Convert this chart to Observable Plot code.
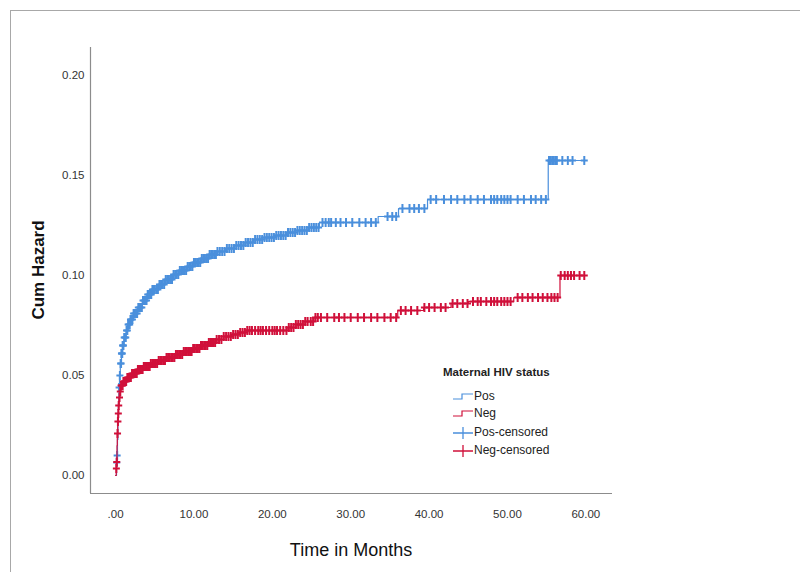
<!DOCTYPE html>
<html><head><meta charset="utf-8">
<script src="https://cdn.jsdelivr.net/npm/d3@7"></script>
<script src="https://cdn.jsdelivr.net/npm/@observablehq/plot@0.6"></script>
<style>
body{margin:0;background:#fff;overflow:hidden;font-family:Arial,"Liberation Sans",sans-serif;}
#wrap{position:relative;width:800px;height:572px;overflow:hidden;}
#frame{position:absolute;left:10px;top:10px;width:820px;height:600px;border:1px solid #a8a8a8;}
#chart{position:absolute;left:0;top:0;}
.lg{position:absolute;font-size:12px;color:#222;white-space:nowrap;line-height:14px;}
.lg svg{vertical-align:middle;}
</style></head>
<body><div id="wrap"><div id="frame"></div><div id="chart"></div><div id="legend"></div></div>
<script>
// ---- data ----
const seriesNames = ["Pos", "Neg"];
const legendTitle = "Maternal HIV status";
const legendLabels = ["Pos", "Neg", "Pos-censored", "Neg-censored"];
const xTicks = [0, 10, 20, 30, 40, 50, 60];
const yTicks = [0, 0.05, 0.10, 0.15, 0.20];
const xTitle = "Time in Months";
const yTitle = "Cum Hazard";

const posStepT = [0, 0.12, 0.19, 0.24, 0.3, 0.36, 0.42, 0.5, 0.6, 0.75, 0.9, 1.1, 1.35, 1.6, 1.9, 2.3, 2.8, 3.4, 4.0, 4.7, 5.5, 6.4, 7.3, 8.2, 9.1, 10.0, 11.0, 12.0, 13.0, 14.0, 15.2, 16.4, 17.6, 19.0, 20.4, 21.8, 23.2, 24.6, 26.0, 33.5, 36.1, 39.8, 55.2];
const posStepH = [0, 0.0065, 0.010, 0.018, 0.027, 0.036, 0.044, 0.050, 0.056, 0.061, 0.065, 0.069, 0.0725, 0.0755, 0.078, 0.081, 0.084, 0.0875, 0.0905, 0.093, 0.0955, 0.098, 0.1005, 0.1025, 0.1045, 0.1065, 0.1085, 0.1105, 0.112, 0.1135, 0.115, 0.1165, 0.118, 0.119, 0.120, 0.1215, 0.1225, 0.124, 0.1265, 0.1295, 0.1335, 0.138, 0.1575];
const posCensT = [0.15, 0.2, 0.45, 0.55, 0.65, 0.7, 0.75, 0.8, 0.85, 0.9, 0.95, 1.0, 1.1, 1.2, 1.3, 1.4, 1.5, 1.6, 1.7, 1.8, 1.9, 2.0, 2.15, 2.3, 2.45, 2.6, 2.75, 2.9, 3.05, 3.2, 3.35, 3.5, 3.65, 3.8, 3.95, 4.1, 4.25, 4.4, 4.55, 4.7, 4.85, 5.0, 5.2, 5.4, 5.6, 5.8, 6.0, 6.2, 6.4, 6.6, 6.8, 7.0, 7.2, 7.4, 7.6, 7.8, 8.0, 8.2, 8.4, 8.6, 8.8, 9.0, 9.2, 9.4, 9.6, 9.8, 10.0, 10.2, 10.4, 10.6, 10.8, 11.0, 11.2, 11.4, 11.6, 11.8, 12.0, 12.2, 12.4, 12.6, 12.8, 13.0, 13.3, 13.6, 13.9, 14.2, 14.5, 14.8, 15.1, 15.4, 15.7, 16.0, 16.3, 16.6, 16.9, 17.2, 17.5, 17.8, 18.1, 18.4, 18.7, 19.0, 19.3, 19.6, 19.9, 20.2, 20.5, 20.8, 21.1, 21.4, 21.7, 22.0, 22.3, 22.6, 22.9, 23.2, 23.5, 23.8, 24.1, 24.4, 24.7, 25.0, 25.3, 25.6, 25.9, 26.4, 26.8, 27.2, 27.5, 28.1, 28.7, 29.4, 30.2, 31.1, 31.9, 32.6, 33.2, 34.7, 35.3, 35.8, 36.6, 37.5, 38.1, 38.7, 39.4, 40.2, 40.9, 41.9, 42.8, 43.6, 44.5, 45.3, 46.2, 47.0, 47.9, 48.3, 48.7, 49.2, 49.6, 50.0, 50.4, 51.3, 52.1, 53.0, 53.6, 54.3, 54.9, 55.3, 55.5, 55.7, 55.9, 56.1, 56.3, 57.0, 57.7, 58.3, 59.8];

const negStepT = [0, 0.08, 0.12, 0.18, 0.22, 0.27, 0.32, 0.38, 0.45, 0.55, 0.7, 1.0, 1.4, 2.0, 2.8, 3.6, 4.5, 5.5, 6.5, 7.6, 8.7, 9.8, 10.8, 11.8, 12.8, 13.8, 14.8, 15.8, 16.8, 22.0, 23.0, 24.2, 25.3, 36.0, 39.3, 42.8, 45.0, 50.8, 56.7];
const negStepH = [0, 0.0035, 0.0067, 0.015, 0.021, 0.027, 0.031, 0.035, 0.039, 0.042, 0.045, 0.047, 0.049, 0.051, 0.053, 0.0545, 0.056, 0.0575, 0.059, 0.0605, 0.062, 0.0635, 0.065, 0.0665, 0.068, 0.0695, 0.0705, 0.0715, 0.0725, 0.074, 0.0755, 0.077, 0.079, 0.0825, 0.084, 0.086, 0.087, 0.089, 0.100];
const negCensT = [0.1, 0.15, 0.25, 0.3, 0.35, 0.4, 0.5, 0.6, 0.7, 0.8, 0.9, 1.0, 1.1, 1.2, 1.35, 1.5, 1.65, 1.8, 1.95, 2.1, 2.25, 2.4, 2.55, 2.7, 2.85, 3.0, 3.15, 3.3, 3.45, 3.6, 3.75, 3.9, 4.05, 4.2, 4.35, 4.5, 4.7, 4.9, 5.1, 5.3, 5.5, 5.7, 5.9, 6.1, 6.3, 6.5, 6.7, 6.9, 7.1, 7.3, 7.5, 7.7, 7.9, 8.1, 8.3, 8.5, 8.7, 8.9, 9.1, 9.3, 9.5, 9.7, 9.9, 10.1, 10.3, 10.5, 10.7, 10.9, 11.1, 11.3, 11.5, 11.7, 11.9, 12.1, 12.3, 12.5, 12.7, 12.9, 13.2, 13.5, 13.8, 14.1, 14.4, 14.7, 15.0, 15.3, 15.6, 15.9, 16.2, 16.5, 16.8, 17.1, 17.4, 17.8, 18.2, 18.5, 18.8, 19.2, 19.6, 20.0, 20.3, 20.6, 21.0, 21.4, 21.8, 22.1, 22.4, 22.7, 23.0, 23.3, 23.6, 23.9, 24.2, 24.5, 24.9, 25.2, 25.5, 25.8, 26.2, 27.0, 27.9, 28.5, 29.2, 30.0, 30.9, 31.7, 32.6, 33.4, 34.3, 35.1, 35.8, 36.4, 37.0, 37.7, 38.5, 39.4, 40.0, 40.7, 41.5, 42.1, 43.0, 43.6, 44.3, 44.9, 45.6, 46.2, 46.6, 47.3, 47.9, 48.3, 48.7, 49.2, 49.6, 50.0, 50.4, 51.3, 51.9, 52.6, 53.2, 53.9, 54.5, 55.1, 55.6, 56.0, 56.4, 56.8, 57.3, 57.7, 58.1, 58.5, 59.2, 59.8];

const colors = ["#4a8fdc", "#d0103a"];
const axisColor = "#8c8c8c";
const xDomain = [-3.2, 63.4];
const yDomain = [-0.009, 0.214];

// ---- helpers ----
function hAt(T, H, t) { let v = H[0]; for (let i = 0; i < T.length; i++) { if (T[i] <= t) v = H[i]; } return v; }
function lineData(T, H, C) { const r = T.map((t, i) => ({t, h: H[i]})); r.push({t: d3.max(C), h: H[H.length - 1]}); return r; }
function censData(T, H, C) { return C.map(t => ({t, h: hAt(T, H, t)})); }

const posLine = lineData(posStepT, posStepH, posCensT);
const negLine = lineData(negStepT, negStepH, negCensT);
const posCens = censData(posStepT, posStepH, posCensT);
const negCens = censData(negStepT, negStepH, negCensT);

// censor mark: a "+" slightly taller than wide
const crossSym = {draw(ctx) { ctx.moveTo(-3.5, 0); ctx.lineTo(3.5, 0); ctx.moveTo(0, -4.5); ctx.lineTo(0, 4.5); }};

const plot = Plot.plot({
  width: 800, height: 572,
  marginLeft: 90, marginRight: 188, marginTop: 47, marginBottom: 79,
  x: {domain: xDomain, ticks: xTicks, tickFormat: d => d === 0 ? ".00" : d.toFixed(2), tickSize: 0, tickPadding: 16, label: null},
  y: {domain: yDomain, ticks: yTicks, tickFormat: d => d.toFixed(2), tickSize: 0, tickPadding: 6, label: null},
  style: {fontFamily: "Arial, 'Liberation Sans', sans-serif", fontSize: "11.5px", color: "#333", background: "transparent"},
  marks: [
    Plot.ruleX([xDomain[0]], {stroke: axisColor, strokeWidth: 1.2}),
    Plot.ruleY([yDomain[0]], {stroke: axisColor, strokeWidth: 1.2}),
    Plot.line(posLine, {x: "t", y: "h", curve: "step-after", stroke: colors[0], strokeWidth: 1.2}),
    Plot.dot(posCens, {x: "t", y: "h", symbol: crossSym, fill: "none", stroke: colors[0], strokeWidth: 2}),
    Plot.line(negLine, {x: "t", y: "h", curve: "step-after", stroke: colors[1], strokeWidth: 1.2}),
    Plot.dot(negCens, {x: "t", y: "h", symbol: crossSym, fill: "none", stroke: colors[1], strokeWidth: 2})
  ]
});
document.getElementById("chart").appendChild(plot);

const svg = d3.select(plot);
svg.append("text").attr("transform", "translate(38,270) rotate(-90)")
  .attr("text-anchor", "middle").attr("dominant-baseline", "central")
  .style("font", "bold 17px Arial, 'Liberation Sans', sans-serif").attr("fill", "#111").text(yTitle);
svg.append("text").attr("x", 351).attr("y", 550)
  .attr("text-anchor", "middle").attr("dominant-baseline", "central")
  .style("font", "18px Arial, 'Liberation Sans', sans-serif").attr("fill", "#111").text(xTitle);

// ---- legend ----
const lg = d3.select("#legend");
lg.append("div").attr("class", "lg").style("left", "443px").style("top", "365px")
  .style("font-weight", "bold").style("font-size", "11.5px").text(legendTitle);
const rowsY = [396, 413, 432, 450];
legendLabels.forEach((lab, i) => {
  const col = colors[i % 2];
  const row = lg.append("div").attr("class", "lg").style("left", "452px").style("top", (rowsY[i] - 7) + "px");
  const s = row.append("svg").attr("width", 22).attr("height", 14);
  if (i < 2) {
    s.append("path").attr("d", "M1,9H10V4H21").attr("fill", "none").attr("stroke", col).attr("stroke-width", 1.2);
  } else {
    s.append("path").attr("d", "M1,7H21M11,1V13").attr("fill", "none").attr("stroke", col).attr("stroke-width", 1.3);
  }
  row.append("span").text(lab);
});
</script>
</body></html>
